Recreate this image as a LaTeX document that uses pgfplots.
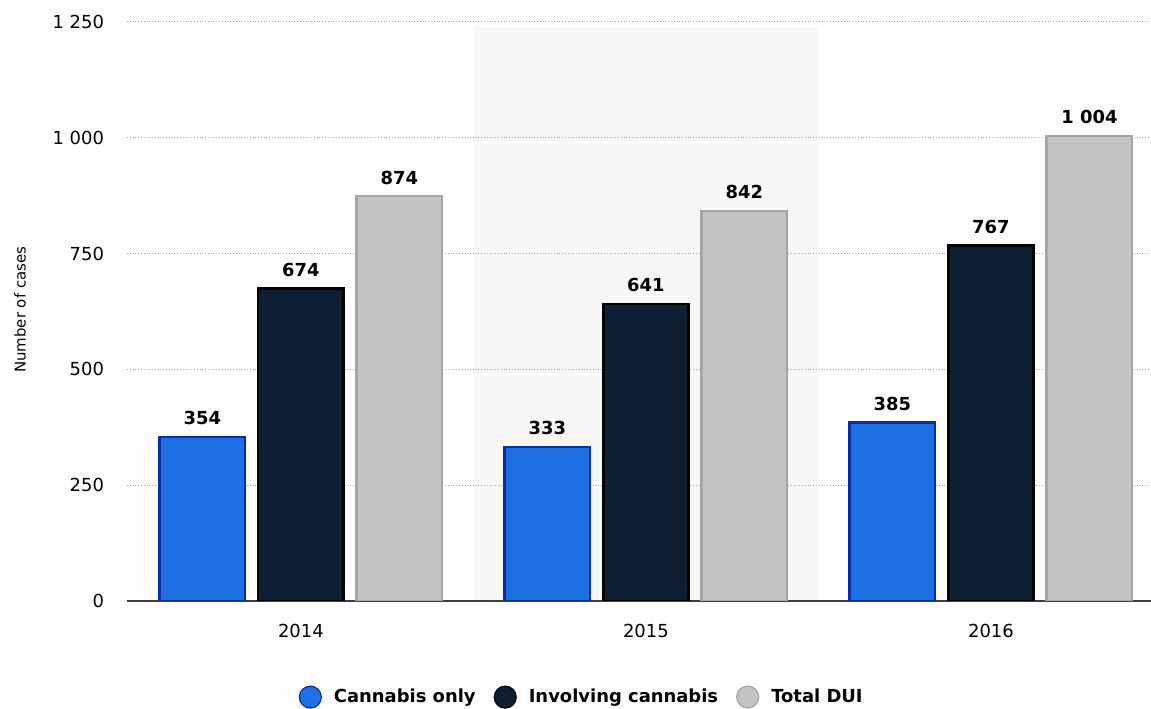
\documentclass[border=0pt]{standalone}
\usepackage{pgfplots}
\pgfplotsset{compat=1.18}
\usepackage{fontspec}
\setmainfont{DejaVu Sans}
\definecolor{cblue}{HTML}{1F6FE5}
\definecolor{cblueedge}{HTML}{0A30A0}
\definecolor{cdark}{HTML}{0E1E33}
\definecolor{cgray}{HTML}{C4C4C4}
\definecolor{cgrayedge}{HTML}{A5A5A5}
\definecolor{band}{HTML}{F8F8F8}
\begin{document}
\begin{tikzpicture}
\begin{axis}[
 at={(63.5bp,54bp)}, anchor=south west,
 width=512bp, height=289.5bp, scale only axis,
 set layers,
 ybar, bar width=42.8bp,
 xmin=-0.504, xmax=2.464, ymin=0, ymax=1250,
 xtick={0,1,2}, xticklabels={2014,2015,2016},
 ytick={0,250,...,1250},
 ymajorgrids, grid style={densely dotted, gray!70, line width=0.5bp},
 major tick length=0,
 axis x line*=bottom, axis y line*=left,
 x axis line style={draw=black!75, line width=0.8bp, -},
 y axis line style={draw=none},
 tick label style={font=\fontsize{9}{10}\selectfont},
 /pgf/number format/assume math mode=true,
 /pgf/number format/1000 sep={\ },
 yticklabel style={xshift=-8bp},
 xticklabel style={yshift=-8bp},
 ylabel={Number of cases},
 every axis y label/.style={at={(axis description cs:-0.1045,0.503)}, rotate=90, anchor=center, font=\fontsize{7.5}{9}\selectfont},
 every node near coord/.append style={font=\bfseries\fontsize{9}{10}\selectfont, text=black, yshift=2bp},
 legend style={at={(0.445,-0.166)}, anchor=center, draw=none, fill=none, legend columns=3,
   font=\bfseries\fontsize{9}{10}\selectfont,
   /tikz/every odd column/.append style={column sep=4bp},
   /tikz/every even column/.append style={column sep=7bp}},
]
\addplot[forget plot, on layer=axis background, fill=band, draw=none, bar width=1, bar shift=0pt]
  coordinates {(1,1240)};
\addplot[fill=cblue, draw=cblueedge, line width=1.2bp, bar shift=-49.25bp, nodes near coords,
  legend image code/.code={\filldraw[draw=cblueedge, fill=cblue, line width=0.6bp] (0bp,0bp) circle (5.5bp);}]
  coordinates {(0,354) (1,333) (2,385)};
\addplot[fill=cdark, draw=black, line width=1.4bp, bar shift=0pt, nodes near coords,
  legend image code/.code={\filldraw[draw=black, fill=cdark, line width=0.6bp] (0bp,0bp) circle (5.5bp);}]
  coordinates {(0,674) (1,641) (2,767)};
\addplot[fill=cgray, draw=cgrayedge, line width=1.2bp, bar shift=49.25bp, nodes near coords,
  legend image code/.code={\filldraw[draw=cgrayedge, fill=cgray, line width=0.6bp] (0bp,0bp) circle (5.5bp);}]
  coordinates {(0,874) (1,842) (2,1004)};
\legend{Cannabis only, Involving cannabis, Total DUI}
\end{axis}
\pgfresetboundingbox
\path[use as bounding box] (0,0) rectangle (575.5bp,354.5bp);
\end{tikzpicture}
\end{document}
